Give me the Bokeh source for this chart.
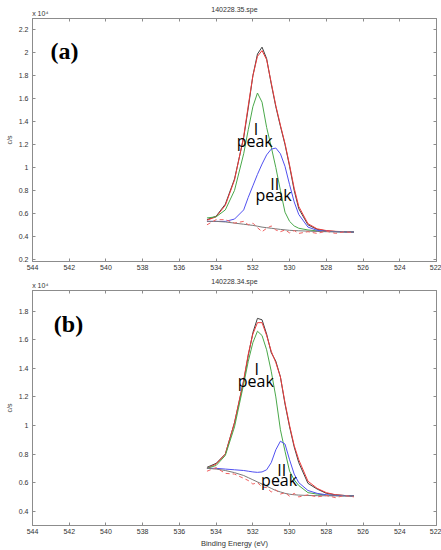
from bokeh.plotting import figure
from bokeh.models import Range1d, LinearAxis, FixedTicker, CustomJSTickFormatter, Label
from bokeh.layouts import column
from bokeh.embed import file_html
from bokeh.resources import INLINE

# ---------------- data (c/s in units of 1e4) ----------------
BE = [534.5, 534.0, 533.5, 533.0, 532.5, 532.25, 532.0, 531.75, 531.5, 531.25, 531.0,
      530.75, 530.5, 530.25, 530.0, 529.75, 529.5, 529.0, 528.5, 528.0, 527.5, 527.0, 526.5]

# panel (a) 140228.35.spe
a_raw = [0.545, 0.575, 0.68, 0.90, 1.26, 1.52, 1.80, 1.99, 2.05, 1.95, 1.73,
         1.53, 1.36, 1.20, 1.01, 0.80, 0.64, 0.50, 0.46, 0.447, 0.442, 0.44, 0.437]
a_fit = [0.54, 0.57, 0.67, 0.89, 1.27, 1.54, 1.80, 1.97, 2.02, 1.94, 1.74,
         1.54, 1.37, 1.21, 1.02, 0.82, 0.66, 0.51, 0.465, 0.45, 0.443, 0.44, 0.437]
a_peak1 = [0.56, 0.57, 0.63, 0.80, 1.12, 1.33, 1.53, 1.65, 1.57, 1.35, 1.18,
           1.00, 0.80, 0.61, 0.53, 0.49, 0.47, 0.455, 0.447, 0.442, 0.44, 0.438, 0.437]
a_peak2 = [0.53, 0.53, 0.53, 0.55, 0.63, 0.74, 0.84, 0.94, 1.03, 1.11, 1.16,
           1.17, 1.12, 1.01, 0.85, 0.70, 0.59, 0.48, 0.452, 0.443, 0.44, 0.438, 0.437]
a_bg = [0.53, 0.53, 0.525, 0.515, 0.505, 0.50, 0.495, 0.488, 0.48, 0.475, 0.47,
        0.465, 0.46, 0.456, 0.452, 0.45, 0.448, 0.445, 0.442, 0.44, 0.439, 0.438, 0.437]
a_resid = [0.50, 0.545, 0.545, 0.515, 0.53, 0.50, 0.515, 0.475, 0.44, 0.47, 0.49,
           0.455, 0.44, 0.455, 0.43, 0.45, 0.425, 0.44, 0.425, 0.445, 0.425, 0.44, 0.43]

# panel (b) 140228.34.spe
b_raw = [0.707, 0.735, 0.80, 1.02, 1.31, 1.49, 1.65, 1.75, 1.74, 1.64, 1.51,
         1.45, 1.34, 1.15, 0.99, 0.85, 0.74, 0.595, 0.555, 0.525, 0.515, 0.51, 0.507]
b_fit = [0.70, 0.73, 0.80, 1.02, 1.32, 1.50, 1.64, 1.72, 1.72, 1.63, 1.52,
         1.44, 1.34, 1.16, 1.00, 0.86, 0.76, 0.61, 0.56, 0.53, 0.515, 0.51, 0.505]
b_peak1 = [0.70, 0.72, 0.79, 0.99, 1.29, 1.45, 1.58, 1.66, 1.63, 1.53, 1.38,
           1.20, 0.97, 0.82, 0.68, 0.62, 0.58, 0.53, 0.52, 0.513, 0.51, 0.508, 0.507]
b_peak2 = [0.70, 0.70, 0.695, 0.69, 0.685, 0.68, 0.675, 0.672, 0.675, 0.69, 0.74,
           0.83, 0.89, 0.87, 0.76, 0.66, 0.60, 0.545, 0.525, 0.515, 0.51, 0.508, 0.507]
b_bg = [0.70, 0.695, 0.685, 0.67, 0.65, 0.635, 0.62, 0.605, 0.59, 0.575, 0.56,
        0.545, 0.535, 0.525, 0.519, 0.515, 0.513, 0.51, 0.509, 0.508, 0.507, 0.507, 0.507]
b_resid = [0.68, 0.705, 0.665, 0.66, 0.63, 0.615, 0.59, 0.60, 0.57, 0.565, 0.535,
           0.55, 0.52, 0.53, 0.505, 0.525, 0.50, 0.515, 0.50, 0.51, 0.495, 0.51, 0.50]

x_ticks = [544, 542, 540, 538, 536, 534, 532, 530, 528, 526, 524, 522]
a_yticks = [0.2, 0.4, 0.6, 0.8, 1.0, 1.2, 1.4, 1.6, 1.8, 2.0, 2.2]
b_yticks = [0.4, 0.6, 0.8, 1.0, 1.2, 1.4, 1.6, 1.8]
exponent_text = "x 10\u2074"

AX = "#8c8c8c"
TXT = "#333333"
FONT = "Liberation Sans"


def panel(title, tag, ylo, yhi, yticks, raw, fit, p1, p2, bg, resid,
          height, mb_top, mb_bottom, tagpos, lab1, lab2, xlabel=None):
    p = figure(width=441, height=height, output_backend="svg", toolbar_location=None,
               x_range=Range1d(544, 522), y_range=Range1d(ylo, yhi),
               min_border_left=32, min_border_right=5, min_border_top=mb_top,
               min_border_bottom=mb_bottom, x_axis_location=None, y_axis_location=None)
    p.grid.visible = False
    p.outline_line_color = AX
    p.background_fill_color = "white"
    p.border_fill_color = "white"

    fmt = CustomJSTickFormatter(code="return String(Math.round(tick*10)/10)")
    blank = CustomJSTickFormatter(code="return ''")
    for loc, is_x in (("below", True), ("above", True), ("left", False), ("right", False)):
        ax = LinearAxis(ticker=FixedTicker(ticks=x_ticks if is_x else yticks))
        ax.axis_line_color = AX
        ax.major_tick_line_color = AX
        ax.major_tick_in = 3
        ax.major_tick_out = 0
        ax.minor_tick_line_color = None
        ax.major_label_text_font = FONT
        ax.major_label_text_font_size = "7px"
        ax.major_label_text_color = TXT
        ax.axis_label_text_font = FONT
        ax.axis_label_text_font_style = "normal"
        ax.axis_label_text_color = TXT
        ax.axis_label_text_font_size = "7px"
        if loc == "right":
            ax.formatter = blank
            ax.major_label_standoff = 0
        elif loc == "above":
            ax.formatter = blank
            # exponent marker "x 10^4" sits at the left end of the top axis
            ax.major_label_overrides = {x_ticks[0]: "\u00a0" * 8 + exponent_text}
            ax.major_label_standoff = 2
            ax.axis_label = title
            ax.axis_label_standoff = -6
        elif loc == "below":
            ax.major_label_standoff = 3
            if xlabel:
                ax.axis_label = xlabel
                ax.axis_label_standoff = 2
                ax.axis_label_text_font_size = "7.5px"
        else:
            ax.formatter = fmt
            ax.major_label_standoff = 4
            ax.axis_label = "c/s"
            ax.axis_label_standoff = 3
        p.add_layout(ax, loc)

    p.line(BE, raw, line_color="#404040", line_width=1)
    p.line(BE, fit, line_color="#ee3b3b", line_width=1)
    p.line(BE, p1, line_color="#4aa84a", line_width=1)
    p.line(BE, p2, line_color="#5050f0", line_width=1)
    p.line(BE, bg, line_color="#7a7a7a", line_width=1)
    p.line(BE, resid, line_color="#f06060", line_width=1, line_dash="4 3")

    # panel tag
    p.add_layout(Label(x=tagpos[0], y=tagpos[1], text=tag, text_font="Liberation Serif",
                       text_font_style="bold", text_font_size="24px", text_color="black",
                       text_align="center", text_baseline="middle"))
    # peak labels
    for (xi, yi, xp, yp, roman) in (lab1, lab2):
        p.add_layout(Label(x=xi, y=yi, text=roman, text_font="Open Sans",
                           text_font_size="16px", text_color="black",
                           text_align="center", text_baseline="alphabetic"))
        p.add_layout(Label(x=xp, y=yp, text="peak", text_font="Open Sans",
                           text_font_size="16px", text_color="black",
                           text_align="center", text_baseline="alphabetic"))
    return p


pa = panel("140228.35.spe", "(a)", 0.18, 2.3, a_yticks, a_raw, a_fit, a_peak1, a_peak2,
           a_bg, a_resid, 274, 18, 13, (542.26, 2.017),
           (531.83, 1.339, 531.9, 1.23, "I"), (530.81, 0.858, 530.87, 0.757, "II"))
pb = panel("140228.34.spe", "(b)", 0.3, 1.945, b_yticks, b_raw, b_fit, b_peak1, b_peak2,
           b_bg, b_resid, 276, 14, 22, (542.04, 1.711),
           (531.79, 1.393, 531.84, 1.313, "I"), (530.43, 0.69, 530.57, 0.619, "II"),
           xlabel="Binding Energy (eV)")

layout = column(pa, pb, spacing=0)
open("out.html", "w").write(file_html(layout, INLINE))
